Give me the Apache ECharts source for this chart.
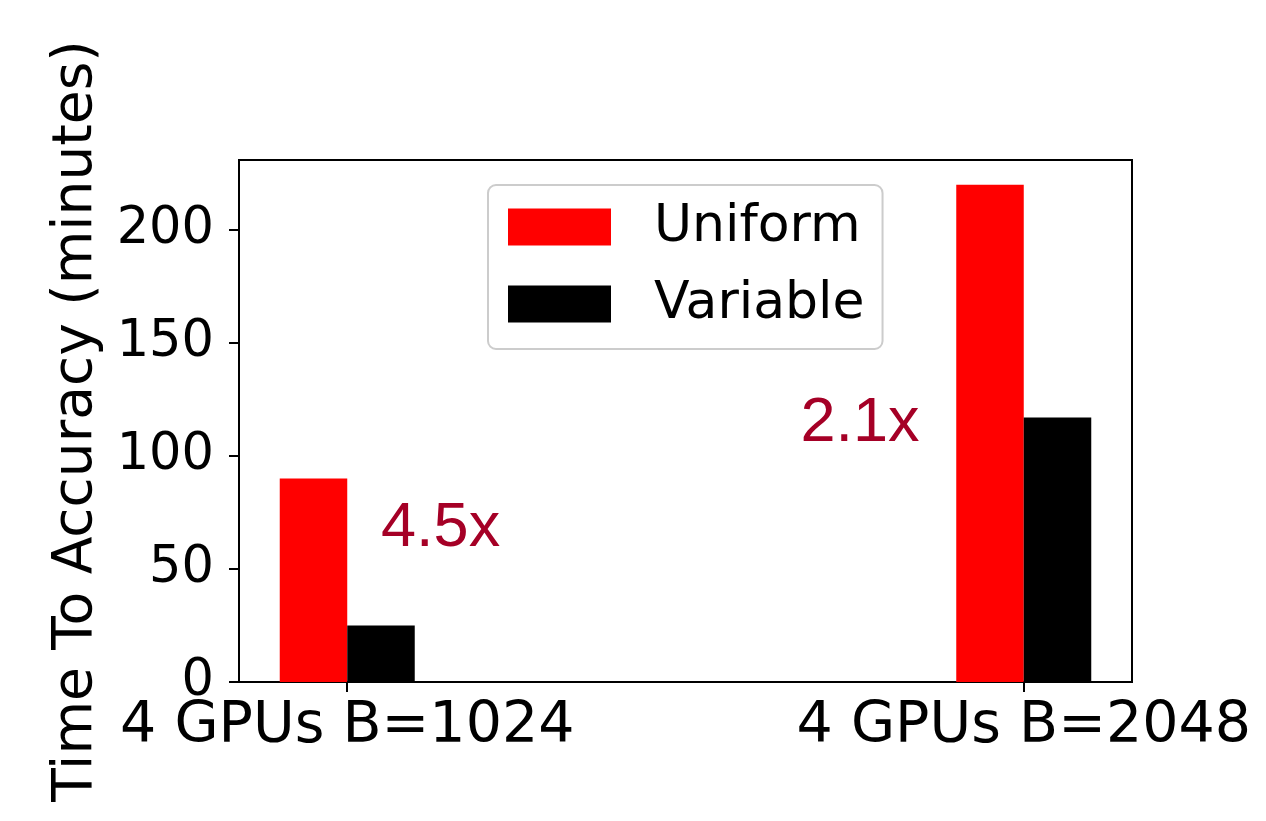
<!DOCTYPE html>
<html>
<head>
<meta charset="utf-8">
<script src="https://cdn.jsdelivr.net/npm/echarts@6.0.0/dist/echarts.min.js"></script>
<style>
html,body{margin:0;padding:0;background:#fff;}
#chart{width:1266px;height:821px;}
</style>
</head>
<body>
<div id="chart"></div>
<script>
const categories = ['4 GPUs B=1024', '4 GPUs B=2048'];
const categoryPos = [0, 1];
const uniform = [90, 220];
const variable = [25, 117];
const yTicks = [0, 50, 100, 150, 200];
const annotTexts = ['4.5x', '2.1x'];
const annotX = [0.05, 0.67];
const annotY = [68, 114.5];

const chart = echarts.init(document.getElementById('chart'), null, {renderer: 'canvas'});
const FONT = '"DejaVu Sans", sans-serif';

const option = {
  animation: false,
  backgroundColor: '#fff',
  grid: {
    left: 239, right: 134, top: 160, bottom: 139,
    show: true, borderColor: '#000', borderWidth: 2, backgroundColor: 'transparent'
  },
  legend: {
    orient: 'vertical',
    left: 488, top: 185,
    data: ['Uniform', 'Variable'],
    itemWidth: 103, itemHeight: 37, itemGap: 25,
    padding: [16, 18, 19, 20],
    borderColor: '#cccccc', borderWidth: 2, borderRadius: 8,
    backgroundColor: '#fff',
    icon: 'rect',
    textStyle: {fontFamily: FONT, fontSize: 52, color: '#000', lineHeight: 37, padding: [0, 0, 0, 38]}
  },
  xAxis: {
    type: 'value', min: -0.16, max: 1.16,
    splitLine: {show: false},
    axisLine: {show: true, onZero: false, lineStyle: {color: '#000', width: 2}},
    axisTick: {show: true, customValues: categoryPos, length: 10, lineStyle: {color: '#000', width: 2}},
    axisLabel: {
      customValues: categoryPos, margin: 17,
      fontFamily: FONT, fontSize: 57, color: '#000',
      formatter: function (v) { const i = categoryPos.indexOf(v); return i >= 0 ? categories[i] : ''; }
    }
  },
  yAxis: {
    type: 'value', min: 0, max: 231,
    name: 'Time To Accuracy (minutes)', nameLocation: 'middle', nameGap: 135,
    nameTextStyle: {fontFamily: FONT, fontSize: 55, color: '#000'},
    splitLine: {show: false},
    axisLine: {show: true, onZero: false, lineStyle: {color: '#000', width: 2}},
    axisTick: {show: true, customValues: yTicks, length: 10, lineStyle: {color: '#000', width: 2}},
    axisLabel: {customValues: yTicks, margin: 25, fontFamily: FONT, fontSize: 51, color: '#000'}
  },
  series: [
    {
      name: 'Uniform', type: 'bar', barWidth: 67.5, barGap: '0%',
      itemStyle: {color: '#ff0000'},
      data: categoryPos.map((x, i) => [x, uniform[i]])
    },
    {
      name: 'Variable', type: 'bar', barWidth: 67.5, barGap: '0%',
      itemStyle: {color: '#000000'},
      data: categoryPos.map((x, i) => [x, variable[i]])
    },
    {
      name: 'annot', type: 'scatter', symbolSize: 0, silent: true,
      itemStyle: {opacity: 1},
      data: annotX.map((x, i) => ({value: [x, annotY[i]], label: {formatter: annotTexts[i]}})),
      label: {
        show: true, position: [0, 0], align: 'left', verticalAlign: 'middle', opacity: 1,
        fontFamily: '"Liberation Sans", Arial, sans-serif', fontSize: 63, color: '#a50026'
      },
      z: 10
    }
  ]
};
chart.setOption(option);
</script>
</body>
</html>
